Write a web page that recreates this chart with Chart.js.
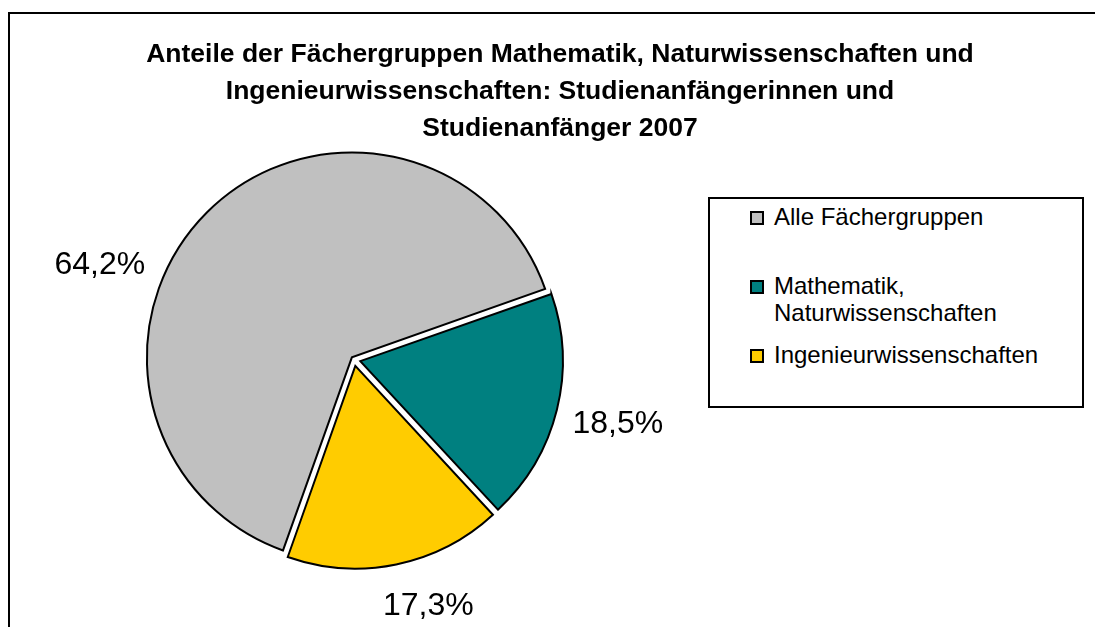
<!DOCTYPE html>
<html lang="de">
<head>
<meta charset="utf-8">
<title>Anteile der Fächergruppen</title>
<script src="https://cdn.jsdelivr.net/npm/chart.js@4/dist/chart.umd.min.js"></script>
<style>
    html, body {
        margin: 0;
        padding: 0;
        width: 1095px;
        height: 627px;
        overflow: hidden;
        background: #fff;
        font-family: "Liberation Sans", Arial, sans-serif;
    }
    .rahmen {
        position: absolute;
        left: 8px;
        top: 12px;
        width: 1100px;
        height: 700px;
        border-left: 2px solid #000;
        border-top: 2px solid #000;
    }
    #kreis {
        position: absolute;
        left: 0;
        top: 0;
    }
    .titel {
        position: absolute;
        left: 0;
        top: 35px;
        width: 1120px;
        text-align: center;
        font-weight: bold;
        font-size: 26.5px;
        line-height: 37px;
        color: #000;
    }
    .legende {
        position: absolute;
        left: 708px;
        top: 197px;
        width: 376px;
        height: 211px;
        box-sizing: border-box;
        border: 2px solid #000;
        background: #fff;
    }
    .legende-eintrag {
        position: absolute;
        left: 40px;
        display: flex;
        align-items: flex-start;
        font-size: 24px;
        line-height: 27px;
        color: #000;
    }
    .legende-farbe {
        width: 14px;
        height: 14px;
        box-sizing: border-box;
        border: 2px solid #000;
        margin-top: 8px;
        margin-right: 10px;
        flex: none;
    }
    .legende-text {
        width: 290px;
    }
</style>
</head>
<body>
<div class="rahmen"></div>
<canvas id="kreis" width="708" height="627"></canvas>
<div class="titel">
    Anteile der Fächergruppen Mathematik, Naturwissenschaften und<br>
    Ingenieurwissenschaften: Studienanfängerinnen und<br>
    Studienanfänger 2007
</div>
<div class="legende" id="legende"></div>

<script>
// Daten
const kategorien = ['Alle Fächergruppen', 'Mathematik, Naturwissenschaften', 'Ingenieurwissenschaften'];
const anteile = [64.2, 18.5, 17.3];
const farben = ['#C0C0C0', '#008080', '#FFCC00'];

// Lage der Prozentangaben (Winkelversatz in Grad, Abstand vom Mittelpunkt)
const beschriftungLage = [
    { versatz: -24.2, abstand: 272 },
    { versatz: -0.7, abstand: 271 },
    { versatz: -5.3, abstand: 255 }
];

function formatProzent(wert) {
    return wert.toFixed(1).replace('.', ',') + '%';
}

// Prozentwerte neben die Segmente schreiben
const prozentPlugin = {
    id: 'prozentPlugin',
    afterDatasetsDraw(chart) {
        const ctx = chart.ctx;
        const meta = chart.getDatasetMeta(0);
        ctx.save();
        ctx.font = '32px "Liberation Sans", Arial, sans-serif';
        ctx.fillStyle = '#000';
        ctx.textAlign = 'center';
        ctx.textBaseline = 'alphabetic';
        meta.data.forEach((bogen, i) => {
            const lage = beschriftungLage[i];
            const winkel = (bogen.startAngle + bogen.endAngle) / 2 + lage.versatz * Math.PI / 180;
            const x = bogen.x + Math.cos(winkel) * lage.abstand;
            const y = bogen.y + Math.sin(winkel) * lage.abstand;
            ctx.fillText(formatProzent(anteile[i]), x, y + 11.5);
        });
        ctx.restore();
    }
};

const chart = new Chart(document.getElementById('kreis').getContext('2d'), {
    type: 'pie',
    data: {
        labels: kategorien,
        datasets: [{
            data: anteile,
            backgroundColor: farben,
            borderColor: '#000',
            borderWidth: 2,
            borderJoinStyle: 'miter',
            offset: [12, 26, 26]
        }]
    },
    options: {
        responsive: false,
        animation: false,
        rotation: 199.5,
        radius: 202,
        layout: {
            padding: { top: 92, left: 0, right: 0, bottom: 0 }
        },
        plugins: {
            legend: { display: false },
            title: { display: false },
            tooltip: { enabled: false }
        }
    },
    plugins: [prozentPlugin]
});

// Legende aus den Diagrammdaten aufbauen
const eintragOben = [4, 73, 142];
const legendeEl = document.getElementById('legende');
chart.data.labels.forEach((name, i) => {
    const eintrag = document.createElement('div');
    eintrag.className = 'legende-eintrag';
    eintrag.style.top = eintragOben[i] + 'px';
    eintrag.innerHTML = `
        <span class="legende-farbe" style="background:${farben[i]}"></span>
        <span class="legende-text">${name}</span>
    `;
    legendeEl.appendChild(eintrag);
});
</script>
</body>
</html>
